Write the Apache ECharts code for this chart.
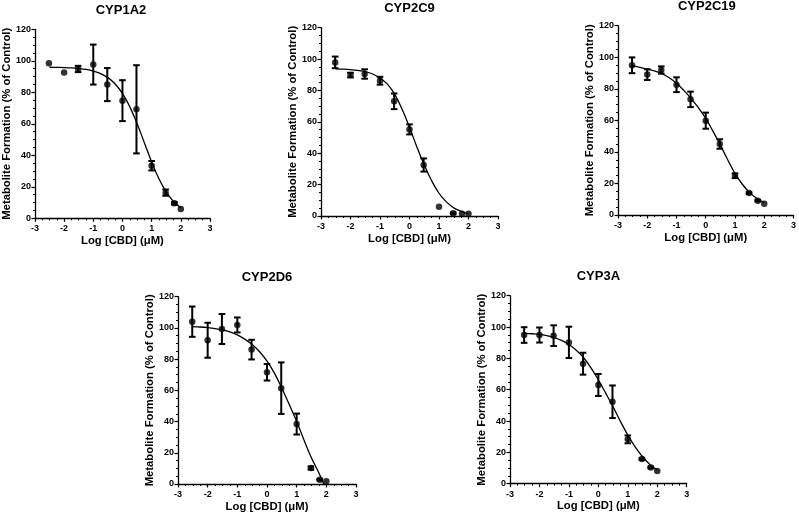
<!DOCTYPE html>
<html>
<head>
<meta charset="utf-8">
<script src="https://cdn.jsdelivr.net/npm/echarts@6/dist/echarts.min.js"></script>
<style>html,body{margin:0;padding:0;background:#fff;}#c{width:799px;height:516px;}</style>
</head>
<body>
<div id="c"></div>
<script>
// Log[CBD] (µM) for each measured point
var doseX = [-2.52, -2, -1.52, -1, -0.52, 0, 0.48, 1, 1.48, 1.78, 2];
// x positions of read fitted-curve points
var curveX = [-2.5, -2.25, -2, -1.75, -1.5, -1.25, -1, -0.75, -0.5, -0.25, 0, 0.25, 0.5, 0.75, 1, 1.25, 1.5, 1.75, 2];

var titles = ['CYP1A2', 'CYP2C9', 'CYP2C19', 'CYP2D6', 'CYP3A'];

var mean1A2 = [98.4, 92.5, 94.8, 97.6, 84.9, 74.7, 69.2, 33.4, 16.3, 9.5, 5.9];
var sd1A2   = [0, 0, 2, 12.7, 10.5, 13, 28, 3, 2, 0.8, 0];
var fit1A2  = [95.9, 95.8, 95.7, 95.5, 95.1, 94.5, 93.5, 91.9, 89.3, 85.3, 79.3, 70.9, 60.2, 48, 35.8, 25.1, 16.8, 10.7, 6.7];

var mean2C9 = [97.9, 89.8, 90.5, 86.2, 73.1, 55.2, 32.5, 5.9, 1.7, 1.5, 1.5];
var sd2C9   = [3.7, 1.5, 3, 2.5, 5, 3.2, 4.2, 0, 0.5, 0, 0];
var fit2C9  = [93.8, 93.6, 93.3, 92.8, 92, 90.5, 88, 84, 77.5, 68, 56.5, 44, 32.5, 22.5, 14.5, 9, 5.2, 3, 1.5];

var mean2C19 = [94.9, 89, 91.9, 82.6, 73.3, 59.8, 45, 24.9, 13.9, 9.1, 7.2];
var sd2C19   = [5, 3.4, 2.3, 4.7, 4.9, 5.1, 3, 1.5, 0.5, 0.5, 0];
var fit2C19  = [94.5, 93.6, 92.5, 91.3, 89.6, 87, 83.5, 79, 73.8, 68, 61.3, 53, 44.4, 35, 26.4, 19.5, 14.2, 10.5, 7.8];

var mean2D6 = [104, 92.1, 99.3, 101.9, 86.1, 71.6, 61.4, 38.4, 10.2, 2.8, 1.7];
var sd2D6   = [9.7, 11.2, 9.6, 4.8, 6.3, 5.3, 16.5, 6.7, 1, 0.5, 0];
var fit2D6  = [100.8, 100.6, 100.2, 99.6, 98.7, 97.4, 95.5, 92.8, 89.3, 84.7, 78.7, 71, 61.4, 51, 40, 28, 16.6, 7, -4];

var mean3A = [94.9, 94.9, 94.5, 90.2, 76.6, 63, 52.3, 28.3, 15.7, 10.4, 8.1];
var sd3A   = [5, 4.8, 6.6, 10, 7, 7, 10.4, 2.5, 0.5, 0.5, 0];
var fit3A  = [96, 95.7, 95.3, 94.5, 93.3, 91.5, 88.9, 85.2, 80.4, 74, 66.2, 57.8, 49.1, 39.8, 31, 23.5, 17.2, 12.3, 8.7];

var yTicks = [0, 20, 40, 60, 80, 100, 120];
var xTicks = [-3, -2, -1, 0, 1, 2, 3];

var panels = [
  {mean: mean1A2, sd: sd1A2, fit: fit1A2},
  {mean: mean2C9, sd: sd2C9, fit: fit2C9},
  {mean: mean2C19, sd: sd2C19, fit: fit2C19},
  {mean: mean2D6, sd: sd2D6, fit: fit2D6},
  {mean: mean3A, sd: sd3A, fit: fit3A}
];

var FONT = "'Liberation Sans', Arial, sans-serif";
var grids = [
  {left: 32, top: 29.3, width: 178, height: 189},
  {left: 321, top: 27.7, width: 177, height: 188.3},
  {left: 618, top: 25.7, width: 177.7, height: 189.3},
  {left: 178, top: 296.7, width: 178, height: 187.3},
  {left: 510, top: 295.7, width: 176.7, height: 188}
];

var xAxes = [], yAxes = [], series = [], graphics = [];
grids.forEach(function (g, i) {
  xAxes.push({
    type: 'value', gridIndex: i, min: xTicks[0], max: xTicks[xTicks.length - 1], interval: 1,
    name: 'Log [CBD] (\u03bcM)', nameLocation: 'middle', nameGap: 17,
    nameTextStyle: {fontFamily: FONT, fontWeight: 'bold', fontSize: 11.3, color: '#000'},
    axisLine: {show: true, onZero: false, lineStyle: {color: '#000', width: 1.3}},
    axisTick: {show: true, length: 3.5, lineStyle: {color: '#000', width: 1.2}},
    minorTick: {show: true, splitNumber: 4, length: 2, lineStyle: {color: '#000', width: 1}},
    splitLine: {show: false},
    axisLabel: {fontFamily: FONT, fontWeight: 'bold', fontSize: 9, color: '#000', margin: 6}
  });
  yAxes.push({
    type: 'value', gridIndex: i, min: yTicks[0], max: yTicks[yTicks.length - 1], interval: 20,
    name: 'Metabolite Formation (% of Control)', nameLocation: 'middle', nameGap: 19,
    nameTextStyle: {fontFamily: FONT, fontWeight: 'bold', fontSize: 11.3, color: '#000'},
    axisLine: {show: true, onZero: false, lineStyle: {color: '#000', width: 1.3}},
    axisTick: {show: true, length: 3.5, lineStyle: {color: '#000', width: 1.2}},
    minorTick: {show: true, splitNumber: 4, length: 2, lineStyle: {color: '#000', width: 1}},
    splitLine: {show: false},
    axisLabel: {fontFamily: FONT, fontWeight: 'bold', fontSize: 9, color: '#000', margin: 4}
  });
  var p = panels[i];
  var curve = curveX.map(function (x, k) { return [x, p.fit[k]]; });
  var pts = doseX.map(function (x, k) { return [x, p.mean[k]]; });
  var errs = [];
  doseX.forEach(function (x, k) {
    if (p.sd[k] > 0) errs.push([x, p.mean[k] - p.sd[k], p.mean[k] + p.sd[k]]);
  });
  series.push({
    type: 'line', xAxisIndex: i, yAxisIndex: i, data: curve, smooth: 0.4, showSymbol: false,
    clip: true, lineStyle: {color: '#000', width: 1.3}, silent: true, z: 2
  });
  series.push({
    type: 'custom', xAxisIndex: i, yAxisIndex: i, data: errs, z: 3, silent: true,
    encode: {x: 0, y: [1, 2]},
    renderItem: function (params, api) {
      var x = api.value(0);
      var lo = api.coord([x, api.value(1)]);
      var hi = api.coord([x, api.value(2)]);
      var w = 3.3;
      var st = {stroke: '#000', lineWidth: 2};
      return {type: 'group', children: [
        {type: 'line', shape: {x1: lo[0], y1: lo[1], x2: hi[0], y2: hi[1]}, style: st},
        {type: 'line', shape: {x1: lo[0] - w, y1: lo[1], x2: lo[0] + w, y2: lo[1]}, style: st},
        {type: 'line', shape: {x1: hi[0] - w, y1: hi[1], x2: hi[0] + w, y2: hi[1]}, style: st}
      ]};
    }
  });
  series.push({
    type: 'scatter', xAxisIndex: i, yAxisIndex: i, data: pts, symbol: 'circle', symbolSize: 6.5,
    itemStyle: {color: '#000'}, z: 4, silent: true
  });
  graphics.push({
    type: 'text', x: g.left + g.width / 2, y: g.top - 19,
    style: {text: titles[i], fill: '#000', font: 'bold 13px ' + FONT, textAlign: 'center', textVerticalAlign: 'middle'}
  });
});

var chart = echarts.init(document.getElementById('c'), null, {renderer: 'canvas'});
chart.setOption({
  animation: false,
  backgroundColor: '#fff',
  grid: grids,
  xAxis: xAxes,
  yAxis: yAxes,
  series: series,
  graphic: graphics
});
</script>
</body>
</html>
